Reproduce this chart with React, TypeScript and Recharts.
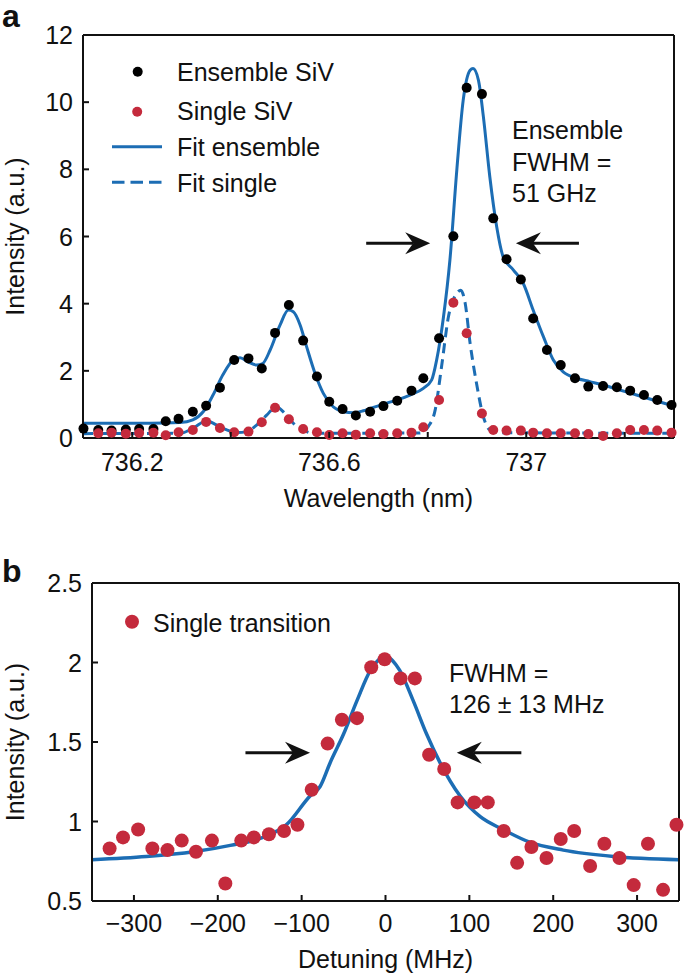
import React from 'react';
import { ComposedChart, Scatter, Line, XAxis, YAxis, ReferenceLine } from 'recharts';

const FONT = '"Liberation Sans", Arial, Helvetica, sans-serif';
const INK = '#111111';
const BLUE = '#1c6db4';
const RED = '#c42a3c';
const FS = 25;
const TICK = 6;

// ---- panel a: SiV emission spectra ----
const wavelengthNm = [
  736.101, 736.131, 736.158, 736.187, 736.214, 736.243, 736.268, 736.294, 736.323, 736.35, 736.378,
  736.407, 736.436, 736.463, 736.49, 736.518, 736.547, 736.575, 736.6, 736.627, 736.654, 736.683,
  736.71, 736.738, 736.767, 736.791, 736.823, 736.852, 736.879, 736.91, 736.933, 736.96, 736.989,
  737.014, 737.042, 737.07, 737.099, 737.126, 737.156, 737.184, 737.211, 737.239, 737.266, 737.295,
];
const ensembleSiV = [
  0.28, 0.24, 0.22, 0.25, 0.27, 0.27, 0.5, 0.57, 0.78, 0.96, 1.5, 2.32, 2.37, 2.07, 3.13, 3.96, 2.9,
  1.83, 1.08, 0.86, 0.67, 0.78, 0.95, 1.11, 1.41, 1.78, 2.97, 6.01, 10.43, 10.24, 6.54, 5.32, 4.72,
  3.56, 2.62, 2.17, 1.78, 1.53, 1.55, 1.51, 1.41, 1.28, 1.13, 0.98,
];
// single SiV starts at the second wavelength sample
const singleSiV = [
  0.14, 0.16, 0.13, 0.15, 0.16, 0.08, 0.17, 0.24, 0.48, 0.3, 0.17, 0.19, 0.47, 0.9, 0.56, 0.27, 0.17,
  0.09, 0.14, 0.1, 0.14, 0.12, 0.14, 0.16, 0.32, 1.13, 4.03, 3.12, 0.73, 0.24, 0.22, 0.22, 0.16, 0.14,
  0.14, 0.14, 0.12, 0.06, 0.14, 0.24, 0.24, 0.22, 0.16,
];
const fitEnsembleNm = [
  736.1, 736.236, 736.297, 736.323, 736.344, 736.364, 736.384, 736.405, 736.419, 736.435, 736.453,
  736.465, 736.48, 736.5, 736.517, 736.527, 736.541, 736.554, 736.571, 736.588, 736.608, 736.629,
  736.649, 736.669, 736.683, 736.71, 736.737, 736.764, 736.791, 736.808, 736.818, 736.832, 736.845,
  736.859, 736.872, 736.886, 736.892, 736.903, 736.913, 736.926, 736.94, 736.953, 736.974, 736.994,
  737.014, 737.035, 737.055, 737.075, 737.102, 737.129, 737.156, 737.19, 737.224, 737.258, 737.3,
];
const fitEnsemble = [
  0.44, 0.44, 0.46, 0.54, 0.78, 1.28, 1.88, 2.32, 2.39, 2.27, 2.17, 2.22, 2.62, 3.36, 3.81, 3.76,
  3.36, 2.72, 1.93, 1.33, 0.93, 0.78, 0.75, 0.81, 0.88, 1.01, 1.13, 1.28, 1.48, 1.73, 2.32, 3.61, 5.3,
  7.98, 10.06, 10.95, 11.0, 10.65, 9.56, 7.78, 6.29, 5.4, 5.0, 4.6, 3.81, 3.01, 2.32, 1.97, 1.78, 1.68,
  1.58, 1.43, 1.28, 1.13, 0.95,
];
const fitSingleNm = [
  736.1, 736.297, 736.323, 736.351, 736.371, 736.392, 736.412, 736.432, 736.453, 736.473, 736.492,
  736.51, 736.527, 736.547, 736.568, 736.784, 736.801, 736.815, 736.828, 736.842, 736.859, 736.867,
  736.876, 736.886, 736.899, 736.913, 736.926, 736.94, 737.3,
];
const fitSingle = [
  0.13, 0.14, 0.29, 0.51, 0.39, 0.24, 0.16, 0.19, 0.39, 0.68, 0.93, 0.73, 0.44, 0.24, 0.14, 0.15, 0.34,
  0.83, 2.12, 3.61, 4.31, 4.4, 4.01, 2.82, 1.63, 0.63, 0.24, 0.16, 0.14,
];
const aXTicks = [736.2, 736.4, 736.6, 736.8, 737, 737.2];
const aXLabels = [736.2, 736.6, 737];
const aYTicks = [0, 2, 4, 6, 8, 10, 12];
const aArrows = [
  { from: 736.675, to: 736.805, at: 5.8 },
  { from: 737.107, to: 736.979, at: 5.8 },
];

// ---- panel b: single transition ----
const detuningMHz = [
  -329, -313, -295, -278, -260, -243, -226, -207, -191, -172, -157, -139, -121, -105, -88, -69, -52,
  -34, -17, -1, 18, 35, 52, 70, 86, 106, 122, 141, 157, 174, 192, 209, 225, 244, 261, 279, 296, 313,
  331, 347,
];
const singleTransition = [
  0.83, 0.9, 0.95, 0.83, 0.82, 0.88, 0.81, 0.88, 0.61, 0.88, 0.9, 0.92, 0.94, 0.98, 1.2, 1.49, 1.64,
  1.65, 1.97, 2.02, 1.9, 1.9, 1.42, 1.33, 1.12, 1.12, 1.12, 0.94, 0.74, 0.84, 0.77, 0.89, 0.94, 0.72,
  0.86, 0.77, 0.6, 0.86, 0.57, 0.98,
];
const fitDetuningMHz = [
  -350, -285, -229, -185, -146, -118, -90, -78, -66, -50, -34, -18, 0, 17, 33, 49, 65, 89, 113, 140,
  172, 212, 272, 350,
];
const fitTransition = [
  0.76, 0.78, 0.81, 0.85, 0.9, 0.98, 1.16, 1.22, 1.37, 1.55, 1.76, 1.95, 2.04, 1.95, 1.76, 1.55, 1.37,
  1.16, 1.03, 0.95, 0.87, 0.82, 0.78, 0.76,
];
const bXTicks = [-300, -200, -100, 0, 100, 200, 300];
const bYTicks = [0.5, 1, 1.5, 2, 2.5];
const bArrows = [
  { from: -167, to: -90, at: 1.433 },
  { from: 162, to: 85, at: 1.433 },
];

const zip = (xs: number[], ys: number[]) => xs.map((x, i) => ({ x, y: ys[i] }));

const txt = { fontSize: FS, fontFamily: FONT, fill: INK } as const;
const axisLine = { stroke: INK, strokeWidth: 2 };

const bottomTick = (labels: number[], fmt: (v: number) => string, drop: number) => (p: any) => {
  const { x, y, payload } = p;
  const v = payload.value;
  const show = labels.some((l) => Math.abs(l - v) < 1e-6);
  return (
    <g>
      <line x1={x} x2={x} y1={y} y2={y - TICK} stroke={INK} strokeWidth={2} />
      {show && <text x={x} y={y + drop} textAnchor="middle" {...txt}>{fmt(v)}</text>}
    </g>
  );
};
const topTick = (p: any) => <line x1={p.x} x2={p.x} y1={p.y} y2={p.y + TICK} stroke={INK} strokeWidth={2} />;
const leftTick = (fmt: (v: number) => string) => (p: any) => (
  <g>
    <line x1={p.x} x2={p.x + TICK} y1={p.y} y2={p.y} stroke={INK} strokeWidth={2} />
    <text x={p.x - 10} y={p.y + 9} textAnchor="end" {...txt}>{fmt(p.payload.value)}</text>
  </g>
);
const rightTick = (p: any) => <line x1={p.x} x2={p.x - TICK} y1={p.y} y2={p.y} stroke={INK} strokeWidth={2} />;

const dot = (r: number, fill: string) => (p: any) => <circle cx={p.cx} cy={p.cy} r={r} fill={fill} />;

const Arrow = (p: any) => {
  const { x1, y1, x2, y2 } = p;
  const d = Math.sign(x2 - x1) || 1;
  const L = 25, W = 11, N = 17;
  const pts = `${x2},${y2} ${x2 - d * L},${y2 - W} ${x2 - d * N},${y2} ${x2 - d * L},${y2 + W}`;
  return (
    <g>
      <line x1={x1} y1={y1} x2={x2 - d * N} y2={y2} stroke={INK} strokeWidth={3} />
      <polygon points={pts} fill={INK} />
    </g>
  );
};

const minus = (v: number) => (v < 0 ? `\u2212${Math.abs(v)}` : String(v));

function PanelA() {
  const dom: [number, number] = [736.1, 737.3];
  return (
    <ComposedChart width={685} height={520} margin={{ top: 0, right: 0, bottom: 0, left: 0 }}>
      <XAxis dataKey="x" type="number" domain={dom} ticks={aXTicks} interval={0} height={82}
        tickSize={0} tickMargin={0} tickLine={false} axisLine={axisLine} tick={bottomTick(aXLabels, String, 33)} />
      <XAxis xAxisId="top" dataKey="x" orientation="top" type="number" domain={dom} ticks={aXTicks} interval={0}
        height={35} tickSize={0} tickMargin={0} tickLine={false} axisLine={axisLine} tick={topTick} />
      <YAxis type="number" domain={[0, 12]} ticks={aYTicks} interval={0} width={83}
        tickSize={0} tickMargin={0} tickLine={false} axisLine={axisLine} tick={leftTick(String)} />
      <YAxis yAxisId="right" orientation="right" type="number" domain={[0, 12]} ticks={aYTicks} interval={0} width={11}
        tickSize={0} tickMargin={0} tickLine={false} axisLine={axisLine} tick={rightTick} />
      <Scatter data={zip(wavelengthNm, ensembleSiV)} dataKey="y" fill="#000" shape={dot(5, '#000')} isAnimationActive={false} />
      <Scatter data={zip(wavelengthNm.slice(1), singleSiV)} dataKey="y" fill={RED} shape={dot(5, RED)} isAnimationActive={false} />
      <Line data={zip(fitEnsembleNm, fitEnsemble)} dataKey="y" type="monotone" stroke={BLUE} strokeWidth={3} dot={false} isAnimationActive={false} />
      <Line data={zip(fitSingleNm, fitSingle)} dataKey="y" type="monotone" stroke={BLUE} strokeWidth={3} strokeDasharray="10 6" dot={false} isAnimationActive={false} />
      {aArrows.map((a, i) => (
        <ReferenceLine key={i} segment={[{ x: a.from, y: a.at }, { x: a.to, y: a.at }]} shape={Arrow} />
      ))}
      <text x={2} y={27} fontSize={32} fontWeight="bold" fontFamily={FONT} fill={INK}>a</text>
      <text transform="translate(24, 236.5) rotate(-90)" textAnchor="middle" {...txt}>Intensity (a.u.)</text>
      <text x={378.5} y={507} textAnchor="middle" {...txt}>Wavelength (nm)</text>
      <g>
        <circle cx={137.7} cy={71.7} r={5} fill="#000" />
        <text x={177} y={81} {...txt}>Ensemble SiV</text>
        <circle cx={137.2} cy={111.7} r={5} fill={RED} />
        <text x={177} y={120} {...txt}>Single SiV</text>
        <line x1={112} x2={162} y1={146.7} y2={146.7} stroke={BLUE} strokeWidth={3} />
        <text x={177} y={156} {...txt}>Fit ensemble</text>
        <line x1={112} x2={162} y1={182.3} y2={182.3} stroke={BLUE} strokeWidth={3} strokeDasharray="12.5 6" />
        <text x={177} y={191.7} {...txt}>Fit single</text>
      </g>
      <text x={512} y={139} {...txt}>Ensemble</text>
      <text x={512} y={171} {...txt}>FWHM =</text>
      <text x={512} y={202} {...txt}>51 GHz</text>
    </ComposedChart>
  );
}

function PanelB() {
  const dom: [number, number] = [-350, 350];
  return (
    <ComposedChart width={685} height={456} margin={{ top: 0, right: 0, bottom: 0, left: 0 }}>
      <XAxis dataKey="x" type="number" domain={dom} ticks={bXTicks} interval={0} height={75}
        tickSize={0} tickMargin={0} tickLine={false} axisLine={axisLine} tick={bottomTick(bXTicks, minus, 31)} />
      <XAxis xAxisId="top" dataKey="x" orientation="top" type="number" domain={dom} ticks={bXTicks} interval={0}
        height={63} tickSize={0} tickMargin={0} tickLine={false} axisLine={axisLine} tick={topTick} />
      <YAxis type="number" domain={[0.5, 2.5]} ticks={bYTicks} interval={0} width={92}
        tickSize={0} tickMargin={0} tickLine={false} axisLine={axisLine} tick={leftTick(String)} />
      <YAxis yAxisId="right" orientation="right" type="number" domain={[0.5, 2.5]} ticks={bYTicks} interval={0} width={6}
        tickSize={0} tickMargin={0} tickLine={false} axisLine={axisLine} tick={rightTick} />
      <Scatter data={zip(detuningMHz, singleTransition)} dataKey="y" fill={RED} shape={dot(7, RED)} isAnimationActive={false} />
      <Line data={zip(fitDetuningMHz, fitTransition)} dataKey="y" type="monotone" stroke={BLUE} strokeWidth={3.5} dot={false} isAnimationActive={false} />
      {bArrows.map((a, i) => (
        <ReferenceLine key={i} segment={[{ x: a.from, y: a.at }, { x: a.to, y: a.at }]} shape={Arrow} />
      ))}
      <text x={2} y={62} fontSize={32} fontWeight="bold" fontFamily={FONT} fill={INK}>b</text>
      <text transform="translate(24, 222) rotate(-90)" textAnchor="middle" {...txt}>Intensity (a.u.)</text>
      <text x={385.5} y={448} textAnchor="middle" {...txt}>Detuning (MHz)</text>
      <circle cx={132} cy={101.7} r={7} fill={RED} />
      <text x={153} y={112} {...txt}>Single transition</text>
      <text x={449} y={162} {...txt}>FWHM =</text>
      <text x={449} y={193} {...txt}>126 ± 13 MHz</text>
    </ComposedChart>
  );
}

export default function App() {
  return (
    <div style={{ position: 'absolute', left: 0, top: 0, width: 685, height: 976, background: '#fff' }}>
      <div style={{ position: 'absolute', left: 0, top: 0 }}>
        <PanelA />
      </div>
      <div style={{ position: 'absolute', left: 0, top: 520 }}>
        <PanelB />
      </div>
    </div>
  );
}
